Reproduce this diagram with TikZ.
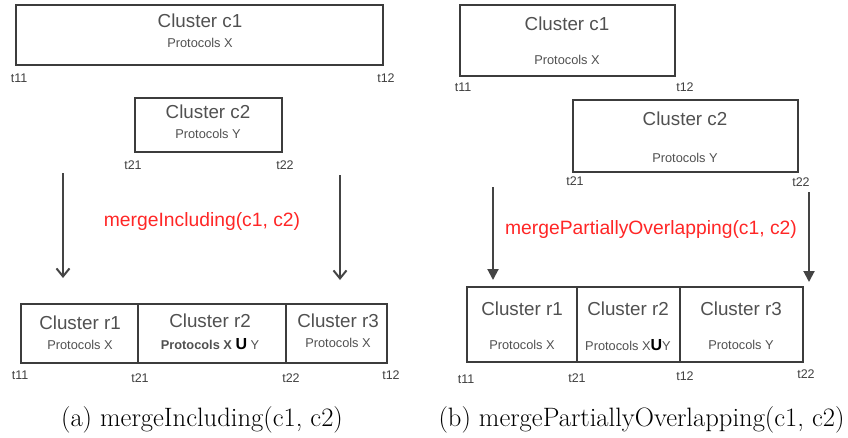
\documentclass[tikz,border=0pt]{standalone}
\usepackage{fontspec}
\setsansfont{Liberation Sans}
\usepackage{tikz}
\usetikzlibrary{arrows.meta, positioning}
\definecolor{boxgray}{HTML}{3C3C3C}
\definecolor{txtgray}{HTML}{505050}
\definecolor{labgray}{HTML}{404040}
\definecolor{arrgray}{HTML}{444444}
\definecolor{mred}{HTML}{FF2626}
\tikzstyle{cbox} = [rectangle, draw=boxgray, line width=2.3pt, inner sep=0pt]
\tikzstyle{ctitle} = [font=\sffamily\fontsize{18.8}{20}\selectfont, text=txtgray, inner sep=0pt]
\tikzstyle{cprot} = [font=\sffamily\fontsize{12.8}{14}\selectfont, text=txtgray, inner sep=0pt]
\tikzstyle{tlab} = [font=\sffamily\fontsize{12.5}{14}\selectfont, text=labgray, inner sep=0pt]
\tikzstyle{mlab} = [font=\sffamily\fontsize{19.3}{21}\selectfont, text=mred, inner sep=0pt]
\tikzstyle{capt} = [font=\fontsize{26.6}{30}\selectfont, inner sep=0pt]
\tikzstyle{arrA} = [draw=arrgray, line width=2pt, -{Straight Barb[length=8pt,width=13pt]}]
\tikzstyle{arrB} = [draw=arrgray, line width=2pt, -{Triangle[length=11pt,width=11pt]}]
\newcommand{\unionU}{{\color{black}\bfseries\fontsize{16}{16}\selectfont U}}

\begin{document}
\begin{tikzpicture}[x=1pt, y=-1pt]
	\useasboundingbox (0,0) rectangle (848,437);

	% (a) mergeIncluding
	\node [cbox, minimum width=367pt, minimum height=60pt] (ac1) at (199.5,35) {};
	\node [ctitle] (ac1t) at (200,21) {Cluster c1};
	\node [cprot] (ac1p) at (200,43) {Protocols X};
	\node [tlab] (at11a) at (19,78) {t11};
	\node [tlab] (at12a) at (386,78) {t12};

	\node [cbox, minimum width=147pt, minimum height=54pt] (ac2) at (208.5,125) {};
	\node [ctitle] (ac2t) at (208,112) {Cluster c2};
	\node [cprot] (ac2p) at (208,134) {Protocols Y};
	\node [tlab] (at21a) at (133,165) {t21};
	\node [tlab] (at22a) at (285,165) {t22};

	\coordinate (aLs) at (63,173);
	\coordinate (aLe) at (63,278);
	\coordinate (aRs) at (340,175);
	\coordinate (aRe) at (340,280);
	\path [arrA] (aLs) -- (aLe);
	\path [arrA] (aRs) -- (aRe);
	\node [mlab] (amerge) at (202,222) {mergeIncluding(c1, c2)};

	\node [cbox, minimum width=117pt, minimum height=59pt] (ar1) at (79.5,333.5) {};
	\node [cbox, minimum width=148pt, minimum height=59pt] (ar2) at (212,333.5) {};
	\node [cbox, minimum width=101pt, minimum height=59pt] (ar3) at (336.5,333.5) {};
	\node [ctitle] (ar1t) at (80,323) {Cluster r1};
	\node [cprot] (ar1p) at (80,345) {Protocols X};
	\node [ctitle] (ar2t) at (210,321) {Cluster r2};
	\node [cprot] (ar2p) at (210,344) {\bfseries Protocols X \unionU\ \mdseries Y};
	\node [ctitle] (ar3t) at (338,321) {Cluster r3};
	\node [cprot] (ar3p) at (338,343) {Protocols X};
	\node [tlab] (at11b) at (20,375) {t11};
	\node [tlab] (at21b) at (140,378) {t21};
	\node [tlab] (at22b) at (291,378) {t22};
	\node [tlab] (at12b) at (391,375) {t12};

	\node [capt] (acap) at (202,420) {(a) mergeIncluding(c1, c2)};

	% (b) mergePartiallyOverlapping
	\node [cbox, minimum width=215pt, minimum height=71pt] (bc1) at (567.5,40.5) {};
	\node [ctitle] (bc1t) at (567,24) {Cluster c1};
	\node [cprot] (bc1p) at (567,60) {Protocols X};
	\node [tlab] (bt11a) at (463,87) {t11};
	\node [tlab] (bt12a) at (685,87) {t12};

	\node [cbox, minimum width=225pt, minimum height=72pt] (bc2) at (685.5,136) {};
	\node [ctitle] (bc2t) at (685,119) {Cluster c2};
	\node [cprot] (bc2p) at (685,158) {Protocols Y};
	\node [tlab] (bt21a) at (575,181) {t21};
	\node [tlab] (bt22a) at (801,182) {t22};

	\coordinate (bLs) at (493,187);
	\coordinate (bLe) at (493,280);
	\coordinate (bRs) at (809,192);
	\coordinate (bRe) at (809,282);
	\path [arrB] (bLs) -- (bLe);
	\path [arrB] (bRs) -- (bRe);
	\node [mlab] (bmerge) at (651,230) {mergePartiallyOverlapping(c1, c2)};

	\node [cbox, minimum width=110pt, minimum height=75pt] (br1) at (522,324.5) {};
	\node [cbox, minimum width=103pt, minimum height=75pt] (br2) at (628.5,324.5) {};
	\node [cbox, minimum width=123pt, minimum height=75pt] (br3) at (741.5,324.5) {};
	\node [ctitle] (br1t) at (522,309) {Cluster r1};
	\node [cprot] (br1p) at (522,345) {Protocols X};
	\node [ctitle] (br2t) at (628,309) {Cluster r2};
	\node [cprot] (br2p) at (628,345) {Protocols X\unionU Y};
	\node [ctitle] (br3t) at (741,309) {Cluster r3};
	\node [cprot] (br3p) at (741,345) {Protocols Y};
	\node [tlab] (bt11b) at (466,379) {t11};
	\node [tlab] (bt21b) at (577,378) {t21};
	\node [tlab] (bt12b) at (685,376) {t12};
	\node [tlab] (bt22b) at (806,374) {t22};

	\node [capt] (bcap) at (641.5,420) {(b) mergePartiallyOverlapping(c1, c2)};
\end{tikzpicture}
\end{document}
